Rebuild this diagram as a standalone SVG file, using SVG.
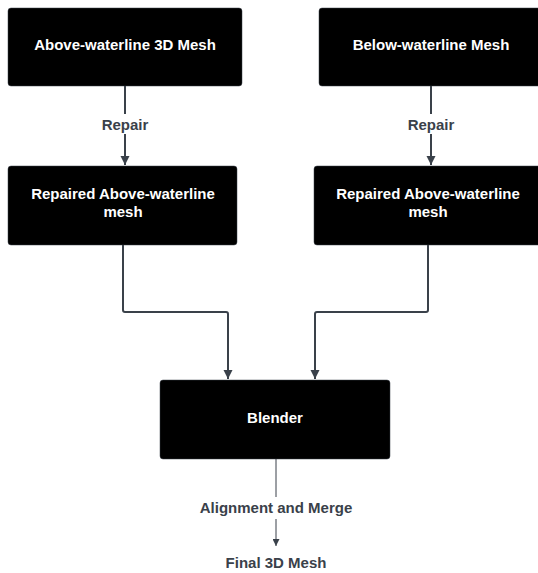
<svg xmlns="http://www.w3.org/2000/svg" width="538" height="573" viewBox="0 0 538 573">
<style>
.box{fill:#000;stroke:#3a414a;stroke-width:0.5}
.nt{fill:#fff;font-family:"Liberation Sans",Arial,sans-serif;font-weight:bold;font-size:15px;text-anchor:middle}
.lb{fill:#3a414a;font-family:"Liberation Sans",Arial,sans-serif;font-weight:bold;font-size:15px;text-anchor:middle}
.c{fill:none;stroke:#3a414a;stroke-width:2;stroke-linejoin:round}
.ct{fill:none;stroke:#3a414a;stroke-width:1}
</style>
<defs>
<marker id="ah" viewBox="0 0 10 10" refX="10" refY="5" markerWidth="4.5" markerHeight="5" markerUnits="strokeWidth" orient="auto">
<path d="M0,0 L10,5 L0,10 Z" fill="#3a414a"/>
</marker>
<marker id="ahs" viewBox="0 0 10 10" refX="10" refY="5" markerWidth="7" markerHeight="7" markerUnits="strokeWidth" orient="auto">
<path d="M0,0 L10,5 L0,10 Z" fill="#3a414a"/>
</marker>
</defs>
<rect width="538" height="573" fill="#fff"/>
<g id="connectors">
<path class="c" d="M125,86 V165" marker-end="url(#ah)"/>
<path class="c" d="M431,86 V165" marker-end="url(#ah)"/>
<path class="c" d="M123,245 V310 Q123,312 125,312 H226 Q228,312 228,314 V379" marker-end="url(#ah)"/>
<path class="c" d="M428,245 V310 Q428,312 426,312 H317 Q315,312 315,314 V379" marker-end="url(#ah)"/>
<path class="ct" d="M276,459 V546" marker-end="url(#ahs)"/>
<rect x="95" y="114" width="60" height="20" fill="#fff"/>
<rect x="401" y="114" width="60" height="20" fill="#fff"/>
<rect x="194" y="497" width="164" height="22" fill="#fff"/>
<text class="lb" x="125" y="130">Repair</text>
<text class="lb" x="431" y="130">Repair</text>
<text class="lb" x="276" y="513">Alignment and Merge</text>
</g>
<g id="n1">
<rect class="box" x="8" y="8" width="234" height="78" rx="3"/>
<text class="nt" x="125" y="50">Above-waterline 3D Mesh</text>
</g>
<g id="n2">
<rect class="box" x="319" y="8" width="222" height="78" rx="3"/>
<text class="nt" x="431" y="50">Below-waterline Mesh</text>
</g>
<g id="n3">
<rect class="box" x="8" y="166" width="229" height="79" rx="3"/>
<text class="nt" x="123" y="199">Repaired Above-waterline</text>
<text class="nt" x="123" y="217">mesh</text>
</g>
<g id="n4">
<rect class="box" x="314" y="166" width="227" height="79" rx="3"/>
<text class="nt" x="428" y="199">Repaired Above-waterline</text>
<text class="nt" x="428" y="217">mesh</text>
</g>
<g id="n5">
<rect class="box" x="160" y="380" width="230" height="79" rx="3"/>
<text class="nt" x="275" y="423">Blender</text>
</g>
<g id="n6">
<text class="lb" x="276" y="568">Final 3D Mesh</text>
</g>
</svg>
